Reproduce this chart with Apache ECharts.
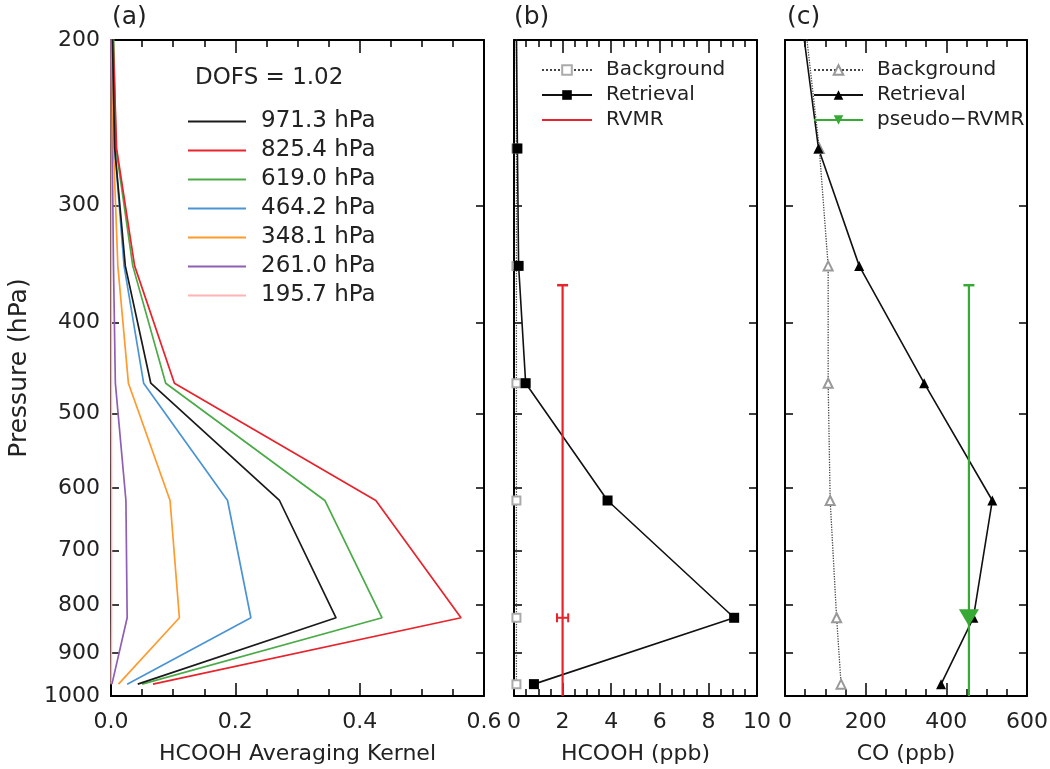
<!DOCTYPE html>
<html>
<head>
<meta charset="utf-8">
<script src="https://cdn.jsdelivr.net/npm/echarts@6/dist/echarts.min.js"></script>
<style>
html,body{margin:0;padding:0;background:#fff;}
#chart{width:1050px;height:769px;}
</style>
</head>
<body>
<div id="chart"></div>
<script>
// ---------------- data ----------------
const pressureLevels = [195.7, 261.0, 348.1, 464.2, 619.0, 825.4, 971.3];
const pressureTicks = [200, 300, 400, 500, 600, 700, 800, 900, 1000];

const akNames = ['971.3 hPa', '825.4 hPa', '619.0 hPa', '464.2 hPa', '348.1 hPa', '261.0 hPa', '195.7 hPa'];
const ak971 = [0.002, 0.006, 0.023, 0.064, 0.271, 0.362, 0.043];
const ak825 = [0.003, 0.009, 0.038, 0.102, 0.426, 0.563, 0.0675];
const ak619 = [0.004, 0.008, 0.035, 0.088, 0.344, 0.436, 0.050];
const ak464 = [0.002, 0.006, 0.021, 0.0525, 0.1875, 0.225, 0.026];
const ak348 = [0.001, 0.004, 0.011, 0.028, 0.095, 0.110, 0.012];
const ak261 = [0.0005, 0.002, 0.004, 0.007, 0.024, 0.026, 0.0015];
const ak196 = [0.0003, 0.0005, 0.0005, 0.0005, 0.0008, 0.0008, 0.0003];
const dofs = '1.02';

const hcoohBackground = [0.1, 0.1, 0.1, 0.1, 0.1, 0.1, 0.1];
const hcoohRetrieval = [0.1, 0.14, 0.19, 0.48, 3.85, 9.06, 0.82];
const rvmrValue = 2.0;
const rvmrError = 0.23;
const rvmrPressure = 825.4;
const rvmrTop = 365;
const rvmrBottom = 1000;

const coBackground = [52, 85, 107, 107, 112, 128, 139];
const coRetrieval = [45, 83, 184, 345, 514, 467, 387];
const pseudoRvmrValue = 456;

// ---------------- styling ----------------
const FONT = 'DejaVu Sans';
const akColors = ['#1a1a1a', '#e8232b', '#4aab47', '#4a94d4', '#ff9a2e', '#8e5fb5', '#ffb3b3'];
const RED = '#e8232b';
const GREEN = '#37a935';
const lp = p => Math.log10(p);

const grids = [
  {left: 111, top: 40, width: 373, height: 656},
  {left: 514, top: 40, width: 243, height: 656},
  {left: 785, top: 40, width: 242, height: 656}
].map(g => Object.assign({outerBoundsMode: 'none', containLabel: false}, g));

const xSpecs = [
  {min: 0, max: 0.6, interval: 0.2, name: 'HCOOH Averaging Kernel', fmt: v => v.toFixed(1)},
  {min: 0, max: 10, interval: 2, name: 'HCOOH (ppb)', fmt: v => String(Math.round(v))},
  {min: 0, max: 600, interval: 200, name: 'CO (ppb)', fmt: v => String(Math.round(v))}
];

const axisLine = {show: true, onZero: false, lineStyle: {color: '#000', width: 2}};
const xAxes = [];
xSpecs.forEach((s, i) => {
  xAxes.push({
    type: 'value', gridIndex: i, position: 'bottom', min: s.min, max: s.max, interval: s.interval,
    name: s.name, nameLocation: 'middle', nameGap: 47,
    nameTextStyle: {fontFamily: FONT, fontSize: 22, color: '#222'},
    axisLine: axisLine,
    axisTick: {show: true, inside: true, length: 13, lineStyle: {color: '#000', width: 1.5}},
    minorTick: {show: true, splitNumber: 4, length: 7, lineStyle: {color: '#000', width: 1.5}},
    axisLabel: {show: true, margin: 15, fontFamily: FONT, fontSize: 22, color: '#222', formatter: s.fmt,
      showMinLabel: true, showMaxLabel: true},
    splitLine: {show: false}
  });
  xAxes.push({
    type: 'value', gridIndex: i, position: 'top', min: s.min, max: s.max, interval: s.interval,
    axisLine: axisLine,
    axisTick: {show: true, inside: true, length: 13, lineStyle: {color: '#000', width: 1.5}},
    minorTick: {show: true, splitNumber: 4, length: 7, lineStyle: {color: '#000', width: 1.5}},
    axisLabel: {show: false},
    splitLine: {show: false}
  });
});

const yTickVals = pressureTicks.map(lp);
const yAxes = [];
[0, 1, 2].forEach(i => {
  yAxes.push({
    type: 'value', gridIndex: i, position: 'left', inverse: true,
    min: lp(200), max: lp(1000),
    name: i === 0 ? 'Pressure (hPa)' : '', nameLocation: 'middle', nameRotate: 90, nameGap: 79,
    nameTextStyle: {fontFamily: FONT, fontSize: 25, color: '#222'},
    axisLine: axisLine,
    axisTick: {show: true, inside: true, length: 8, customValues: yTickVals, lineStyle: {color: '#000', width: 1.5}},
    axisLabel: {show: i === 0, customValues: yTickVals, margin: 11, fontFamily: FONT, fontSize: 22, color: '#222',
      formatter: v => String(Math.round(Math.pow(10, v)))},
    splitLine: {show: false}
  });
  yAxes.push({
    type: 'value', gridIndex: i, position: 'right', inverse: true,
    min: lp(200), max: lp(1000),
    axisLine: axisLine,
    axisTick: {show: true, inside: true, length: 8, customValues: yTickVals, lineStyle: {color: '#000', width: 1.5}},
    axisLabel: {show: false},
    splitLine: {show: false}
  });
});

const toPts = vals => vals.map((v, j) => [v, lp(pressureLevels[j])]);

const series = [];
const akRows = [ak971, ak825, ak619, ak464, ak348, ak261, ak196];
akRows.forEach((row, i) => {
  series.push({
    type: 'line', name: akNames[i], xAxisIndex: 0, yAxisIndex: 0,
    data: toPts(row), symbol: 'none', silent: true,
    lineStyle: {color: akColors[i], width: 1.7}, itemStyle: {color: akColors[i]}, z: 10 - i
  });
});

// panel b
series.push({
  type: 'line', name: 'Background', xAxisIndex: 2, yAxisIndex: 2, data: toPts(hcoohBackground),
  symbol: 'emptyRect', symbolSize: 8, silent: true,
  lineStyle: {color: '#444', width: 1.3, type: 'dotted'}, itemStyle: {color: '#aaa', borderWidth: 1}
});
series.push({
  type: 'line', name: 'Retrieval', xAxisIndex: 2, yAxisIndex: 2, data: toPts(hcoohRetrieval),
  symbol: 'rect', symbolSize: 10, silent: true,
  lineStyle: {color: '#111', width: 1.6}, itemStyle: {color: '#000'}
});
series.push({
  type: 'line', name: 'RVMR', xAxisIndex: 2, yAxisIndex: 2, symbol: 'none', silent: true,
  data: [
    {value: [rvmrValue, lp(rvmrTop)], symbol: 'rect', symbolSize: [11, 2.5]},
    {value: [rvmrValue, lp(rvmrBottom)]}
  ],
  lineStyle: {color: RED, width: 2.2}, itemStyle: {color: RED}
});
series.push({
  type: 'line', name: 'RVMR error', xAxisIndex: 2, yAxisIndex: 2, symbol: 'rect', symbolSize: [2, 9], silent: true,
  data: [[rvmrValue - rvmrError, lp(rvmrPressure)], [rvmrValue + rvmrError, lp(rvmrPressure)]],
  lineStyle: {color: RED, width: 2}, itemStyle: {color: RED}
});

// panel c
series.push({
  type: 'line', name: 'CO Background', xAxisIndex: 4, yAxisIndex: 4, data: toPts(coBackground),
  symbol: 'emptyTriangle', symbolSize: 9, silent: true,
  lineStyle: {color: '#444', width: 1.3, type: 'dotted'}, itemStyle: {color: '#999', borderWidth: 1}
});
series.push({
  type: 'line', name: 'CO Retrieval', xAxisIndex: 4, yAxisIndex: 4, data: toPts(coRetrieval),
  symbol: 'triangle', symbolSize: 10, silent: true,
  lineStyle: {color: '#111', width: 1.6}, itemStyle: {color: '#000'}
});
series.push({
  type: 'line', name: 'pseudo\u2212RVMR', xAxisIndex: 4, yAxisIndex: 4, silent: true,
  symbol: 'triangle', symbolRotate: 180, symbolSize: [20, 17],
  data: [
    {value: [pseudoRvmrValue, lp(rvmrTop)], symbol: 'rect', symbolSize: [11, 2.5], symbolRotate: 0},
    {value: [pseudoRvmrValue, lp(rvmrPressure)]},
    {value: [pseudoRvmrValue, lp(rvmrBottom)], symbol: 'none'}
  ],
  lineStyle: {color: GREEN, width: 2.2}, itemStyle: {color: GREEN}, z: 5
});

const legendBase = {
  orient: 'vertical', padding: 0, selectedMode: false, itemHeight: 12
};

const option = {
  backgroundColor: '#fff',
  animation: false,
  grid: grids,
  xAxis: xAxes,
  yAxis: yAxes,
  title: [
    {text: '(a)', left: 107, top: 0, textStyle: {fontFamily: FONT, fontSize: 25, fontWeight: 'normal', color: '#222'}},
    {text: '(b)', left: 509, top: 0, textStyle: {fontFamily: FONT, fontSize: 25, fontWeight: 'normal', color: '#222'}},
    {text: '(c)', left: 782, top: 0, textStyle: {fontFamily: FONT, fontSize: 25, fontWeight: 'normal', color: '#222'}},
    {text: 'DOFS = ' + dofs, left: 190, top: 62, textStyle: {fontFamily: FONT, fontSize: 23, fontWeight: 'normal', color: '#222'}}
  ],
  legend: [
    Object.assign({}, legendBase, {
      data: akNames, left: 188, top: 110, itemWidth: 58, itemGap: 6,
      icon: 'path://M0,0L58,0L58,1.8L0,1.8Z',
      textStyle: {fontFamily: FONT, fontSize: 23, color: '#222', padding: [0, 0, 0, 10]}
    }),
    Object.assign({}, legendBase, {
      data: ['Background', 'Retrieval', {name: 'RVMR', icon: 'path://M0,0L50,0L50,2.2L0,2.2Z'}],
      left: 541, top: 60, itemWidth: 50, itemGap: 5,
      textStyle: {fontFamily: FONT, fontSize: 20, color: '#222', padding: [0, 0, 0, 9]}
    }),
    Object.assign({}, legendBase, {
      data: ['CO Background', 'CO Retrieval', 'pseudo\u2212RVMR'], left: 813, top: 60, itemWidth: 49, itemGap: 5,
      formatter: n => n.replace('CO ', ''),
      textStyle: {fontFamily: FONT, fontSize: 20, color: '#222', padding: [0, 0, 0, 9]}
    })
  ],
  series: series
};

const chart = echarts.init(document.getElementById('chart'), null, {renderer: 'canvas'});
chart.setOption(option);
</script>
</body>
</html>
